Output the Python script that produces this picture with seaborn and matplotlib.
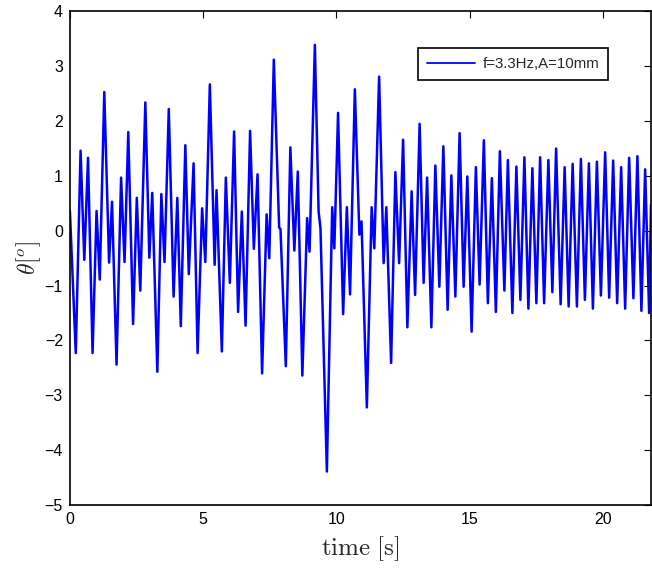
import matplotlib
matplotlib.use("Agg")
import matplotlib.pyplot as plt
import seaborn as sns
import pandas as pd

# Extrema of the recorded signal (time in s, angle in degrees)
time_s = [0.00, 0.22, 0.40, 0.54, 0.68, 0.85, 1.00, 1.12, 1.29, 1.47, 1.58, 1.75,
          1.92, 2.05, 2.19, 2.37, 2.51, 2.64, 2.83, 2.98, 3.09, 3.28, 3.43, 3.55,
          3.71, 3.89, 4.03, 4.16, 4.33, 4.46, 4.64, 4.79, 4.96, 5.08, 5.25, 5.43,
          5.50, 5.70, 5.85, 6.00, 6.16, 6.31, 6.45, 6.59, 6.76, 6.90, 7.04, 7.21,
          7.38, 7.48, 7.65, 7.85, 7.90, 8.10, 8.27, 8.42, 8.55, 8.72, 8.90, 8.99,
          9.19, 9.33, 9.40, 9.64, 9.84, 9.92, 10.06, 10.25, 10.39, 10.51, 10.69, 10.86,
          10.94, 11.14, 11.32, 11.42, 11.60, 11.77, 11.87, 12.05, 12.21, 12.35, 12.50, 12.66,
          12.82, 12.95, 13.12, 13.27, 13.40, 13.56, 13.71, 13.86, 14.01, 14.17, 14.31, 14.46,
          14.62, 14.77, 14.91, 15.07, 15.23, 15.37, 15.53, 15.68, 15.83, 15.98, 16.13, 16.30,
          16.43, 16.60, 16.75, 16.90, 17.05, 17.20, 17.35, 17.50, 17.64, 17.79, 17.95, 18.10,
          18.24, 18.41, 18.56, 18.71, 18.86, 19.02, 19.17, 19.32, 19.47, 19.62, 19.77, 19.92,
          20.08, 20.23, 20.38, 20.53, 20.68, 20.83, 20.98, 21.14, 21.29, 21.44, 21.58, 21.73,
          21.80]
theta_deg = [0.36, -2.23, 1.46, -0.53, 1.33, -2.23, 0.36, -0.89, 2.53, -0.58, 0.53, -2.44,
             0.97, -0.57, 1.80, -1.70, 0.60, -1.09, 2.34, -0.49, 0.69, -2.57, 0.67, -0.57,
             2.22, -1.20, 0.60, -1.74, 1.56, -0.79, 1.23, -2.23, 0.41, -0.57, 2.67, -0.62,
             0.74, -2.20, 0.97, -0.95, 1.81, -1.48, 0.35, -1.73, 1.82, -0.33, 1.03, -2.60,
             0.30, -0.50, 3.12, 0.06, 0.03, -2.47, 1.52, -0.36, 1.08, -2.64, 0.23, -0.38,
             3.39, 0.35, 0.05, -4.39, 0.43, -0.32, 2.15, -1.52, 0.43, -1.16, 2.58, -0.07,
             0.17, -3.22, 0.43, -0.32, 2.81, -0.59, 0.43, -2.41, 1.07, -0.59, 1.66, -1.76,
             0.72, -1.17, 1.95, -0.95, 0.97, -1.76, 1.19, -1.02, 1.54, -1.44, 1.01, -1.20,
             1.78, -1.02, 0.99, -1.84, 1.16, -0.98, 1.65, -1.32, 0.96, -1.48, 1.45, -1.09,
             1.29, -1.50, 1.17, -1.26, 1.34, -1.42, 1.14, -1.32, 1.34, -1.32, 1.29, -1.12,
             1.50, -1.34, 1.16, -1.38, 1.22, -1.38, 1.31, -1.26, 1.23, -1.42, 1.26, -1.18,
             1.43, -1.22, 1.28, -1.32, 1.16, -1.42, 1.33, -1.23, 1.36, -1.46, 1.12, -1.50,
             0.47]
series_label = "f=3.3Hz,A=10mm"
x_ticks = [0, 5, 10, 15, 20]
y_ticks = [-5, -4, -3, -2, -1, 0, 1, 2, 3, 4]

df = pd.DataFrame({"time": time_s, "theta": theta_deg})

sns.set_theme(style="white")
plt.rcParams["font.family"] = ["Liberation Sans", "DejaVu Sans"]
plt.rcParams["mathtext.fontset"] = "cm"

fig = plt.figure(figsize=(6.52, 5.72), dpi=100)
ax = fig.add_axes([69.9 / 652, 1 - 505 / 572, (651 - 69.9) / 652, (505 - 11.4) / 572])

sns.lineplot(data=df, x="time", y="theta", ax=ax, color="#0000ff", linewidth=1.8,
             label=series_label, sort=False)

ax.set_xlim(0, 21.8)
ax.set_ylim(-5, 4)
ax.set_xticks(x_ticks)
ax.set_yticks(y_ticks)
ax.set_xticklabels([str(t) for t in x_ticks])
ax.set_yticklabels([str(t).replace("-", "\u2212") for t in y_ticks])
ax.tick_params(direction="in", length=5, width=0.8, top=True, right=True,
               labelsize=11.5, colors="black", pad=5)
for s in ax.spines.values():
    s.set_color("black")
    s.set_linewidth(1.2)

ax.set_xlabel(r"$\mathrm{time}\ [\mathrm{s}]$", fontsize=18, labelpad=5)
ax.set_ylabel(r"$\theta[^o]$", fontsize=17, labelpad=1)

leg = ax.legend(loc="upper right", bbox_to_anchor=(0.926, 0.926), fontsize=10.8,
                frameon=True, fancybox=False, framealpha=1, edgecolor="black",
                handlelength=3.2, borderpad=0.6, handletextpad=0.5, borderaxespad=0)
leg.get_frame().set_linewidth(1.2)
for h in leg.get_lines():
    h.set_linewidth(1.3)

fig.savefig("out.png", dpi=100)
